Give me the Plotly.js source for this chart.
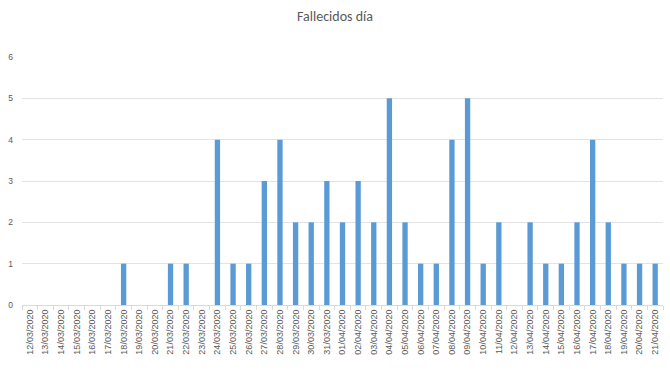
<!DOCTYPE html>
<html><head><meta charset="utf-8">
<script src="https://cdn.plot.ly/plotly-3.0.1.min.js"></script>
<style>body{margin:0;background:#fff}#c{width:670px;height:391px}</style>
</head><body><div id="c"></div>
<script>
const fechas = ["12/03/2020","13/03/2020","14/03/2020","15/03/2020","16/03/2020","17/03/2020","18/03/2020","19/03/2020","20/03/2020","21/03/2020","22/03/2020","23/03/2020","24/03/2020","25/03/2020","26/03/2020","27/03/2020","28/03/2020","29/03/2020","30/03/2020","31/03/2020","01/04/2020","02/04/2020","03/04/2020","04/04/2020","05/04/2020","06/04/2020","07/04/2020","08/04/2020","09/04/2020","10/04/2020","11/04/2020","12/04/2020","13/04/2020","14/04/2020","15/04/2020","16/04/2020","17/04/2020","18/04/2020","19/04/2020","20/04/2020","21/04/2020"];
const fallecidos = [0,0,0,0,0,0,1,0,0,1,1,0,4,1,1,3,4,2,2,3,2,3,2,5,2,1,1,4,5,1,2,0,2,1,1,2,4,2,1,1,1];
const yTicks = [0,1,2,3,4,5,6];

Plotly.newPlot('c', [{
  type: 'bar', x: fechas, y: fallecidos,
  marker: {color: '#5B9BD5'}, hoverinfo: 'x+y'
}], {
  width: 670, height: 391,
  margin: {l: 22, r: 7, t: 57, b: 86},
  title: {text: 'Fallecidos día', x: 0.5, xanchor: 'center', y: 0.96, yanchor: 'middle',
          font: {family: 'Calibri, Carlito, "Liberation Sans", Arial, sans-serif', size: 14, color: '#595959'}},
  bargap: 0.66,
  paper_bgcolor: '#fff', plot_bgcolor: '#fff',
  xaxis: {type: 'category', tickangle: -90, tickfont: {family: '"Liberation Sans", Arial, sans-serif', size: 9, color: '#595959'},
          showline: true, linecolor: '#D9D9D9', linewidth: 1, ticks: 'outside', ticklen: 4, tickcolor: '#D9D9D9',
          showgrid: false, tickson: 'boundaries', fixedrange: true},
  yaxis: {range: [0, 6], tickvals: yTicks, tickfont: {family: '"Liberation Sans", Arial, sans-serif', size: 8.5, color: '#595959'},
          showgrid: true, gridcolor: '#E3E3E3', gridwidth: 1, zeroline: false, showline: false, ticks: '', ticklabelstandoff: 8, fixedrange: true},
  showlegend: false
}, {displayModeBar: false, staticPlot: true});
</script></body></html>
